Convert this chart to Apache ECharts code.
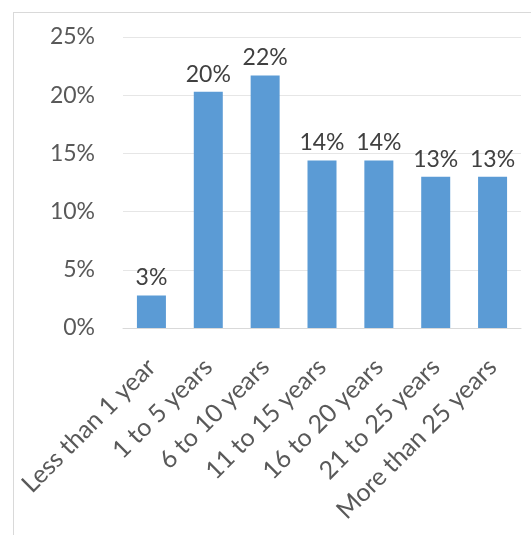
<!DOCTYPE html>
<html><head><meta charset="utf-8">
<script src="https://cdn.jsdelivr.net/npm/echarts@6/dist/echarts.min.js"></script>
<style>
html,body{margin:0;padding:0;background:#fff;}
#frame{position:absolute;left:13px;top:12px;width:530px;height:540px;border-left:1px solid #d9d9d9;border-top:1px solid #d9d9d9;}
#c{position:absolute;left:0;top:0;width:531px;height:535px;}
</style></head>
<body>
<div id="frame"></div>
<div id="c"></div>
<script>
const categories = ["Less than 1 year","1 to 5 years","6 to 10 years","11 to 15 years","16 to 20 years","21 to 25 years","More than 25 years"];
const values = [2.8, 20.3, 21.7, 14.4, 14.4, 13.0, 13.0];
const yTicks = [0, 5, 10, 15, 20, 25];

const chart = echarts.init(document.getElementById('c'), null, {renderer:'canvas'});
chart.setOption({
  animation:false,
  grid:{left:123, right:10, top:37, bottom:207, containLabel:false},
  xAxis:{
    type:'category', data:categories,
    axisLine:{show:true, lineStyle:{color:'#d9d9d9'}},
    axisTick:{show:false},
    axisLabel:{rotate:45, interval:0, fontFamily:'Lato', fontSize:25, color:'#595959', margin:35}
  },
  yAxis:{
    type:'value', min:yTicks[0], max:yTicks[yTicks.length-1], interval:5,
    axisLine:{show:false}, axisTick:{show:false},
    splitLine:{lineStyle:{color:'#e6e6e6'}},
    axisLabel:{formatter:v=>v+'%', fontFamily:'Lato', fontSize:23, color:'#595959', margin:28}
  },
  series:[{
    type:'bar', data:values, barWidth:29,
    itemStyle:{color:'#5b9bd5'},
    label:{show:true, position:'top', distance:6, formatter:p=>Math.round(p.value)+'%', fontFamily:'Lato', fontSize:23, color:'#404040'}
  }]
});
</script>
</body></html>
